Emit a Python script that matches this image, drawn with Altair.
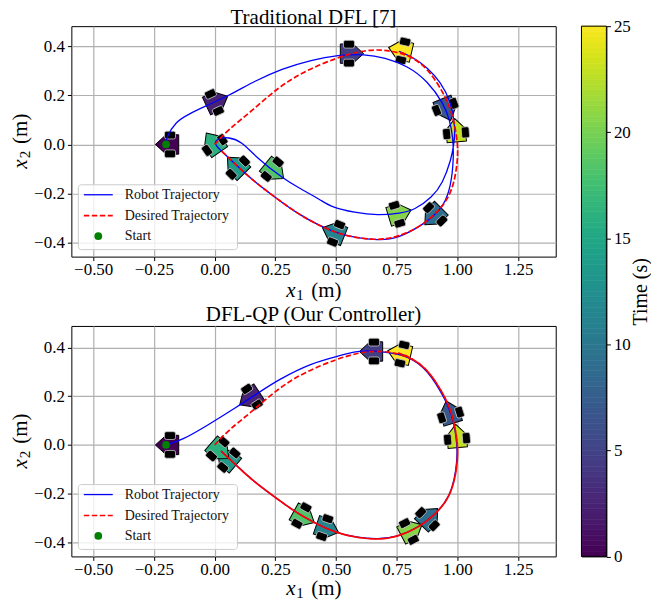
import altair as alt
import pandas as pd

# ---------- values ----------
TIMES = [0, 2.27, 4.55, 6.82, 9.09, 11.36, 13.64, 15.91, 18.18, 20.45, 22.73, 25]

DES_X = [0, .057, .153, .262, .372, .508, .59, .66, .72, .795, .877, .959, .985, 1.003, 1.0, .99, .968, .925, .85, .754, .672, .58, .5, .426, .344, .262, .152, .08, 0,
         .08, .152, .262, .344, .426, .5, .58, .672, .754, .85, .925, .968, .99, 1.0, 1.003, .985, .959, .877, .795, .756]
DES_Y = [0, .061, .136, .233, .3, .355, .378, .387, .382, .366, .316, .184, .1, 0, -.07, -.14, -.21, -.27, -.334, -.378, -.39, -.38, -.36, -.328, -.283, -.225, -.143, -.075, 0,
         -.075, -.143, -.225, -.283, -.328, -.36, -.38, -.39, -.378, -.334, -.27, -.21, -.14, -.07, 0, .1, .184, .316, .366, .378]

A_X = [-.2, -.2, -.16, -.107, -.038, .06, .167, .275, .4, .508, .618, .70, .795, .877, .945, .968, .982, .985, .973, .945, .897, .863, .754, .672, .58, .5, .426, .344, .262, .152, .08, .02, -.004, .016, .057, .112, .167, .29, .344, .439, .48, .577, .672, .767, .822, .897, .939, .975, .985, .993, .973, .93, .877, .815, .76]
A_Y = [0, .026, .094, .123, .156, .2, .259, .308, .345, .364, .368, .354, .32, .259, .164, .1, .03, -.06, -.172, -.248, -.296, -.323, -.385, -.39, -.38, -.36, -.328, -.283, -.225, -.143, -.075, -.02, .005, .026, .03, .012, -.049, -.145, -.175, -.227, -.255, -.278, -.289, -.28, -.268, -.214, -.159, -.06, 0, .062, .177, .255, .313, .357, .379]

B_X = [-.2, -.134, -.038, .098, .18, .262, .4, .508, .59, .66, .72, .795, .877, .955, .985, 1.0, .998, .988, .968, .925, .85, .754, .672, .58, .5, .426, .344, .262, .152, .08, 0, .08, .152, .262, .344, .426, .5, .58, .672, .754, .85, .925, .968, .988, .998, 1.0, .985, .955, .877, .795, .756]
B_Y = [0, .02, .075, .16, .214, .268, .337, .365, .387, .387, .38, .365, .312, .18, .1, 0, -.07, -.14, -.21, -.27, -.334, -.378, -.388, -.38, -.36, -.328, -.283, -.225, -.143, -.075, 0, -.075, -.143, -.225, -.283, -.328, -.36, -.38, -.388, -.378, -.334, -.27, -.21, -.14, -.07, 0, .1, .18, .312, .365, .377]

RA_X = [-.2, .014, .57, .956, .897, .485, .084, -.009, .25, .767, .993, .76]
RA_Y = [0, .178, .37, .138, -.296, -.356, -.083, .011, -.111, -.28, .062, .385]
RA_DIR = [180, 335, 0, 68, 135, 202, 225, 235, 39, 343, 265, 193]

RB_X = [-.2, .14, .64, .967, .888, .469, .046, .025, .372, .815, .997, .756]
RB_Y = [0, .189, .384, .139, -.293, -.345, -.052, -.027, -.298, -.348, .041, .377]
RB_DIR = [180, 146.5, 180, 252.5, 314, 19, 220, 41, 28.6, 332.5, 265, 193]

CB_T = [i * 0.25 for i in range(100)]
X_TICKS = [-.5, -.25, 0, .25, .5, .75, 1.0, 1.25]
Y_TICKS = [-.4, -.2, 0, .2, .4]
CB_TICKS = [0, 5, 10, 15, 20, 25]
LEGEND_LABELS = ["Robot Trajectory", "Desired Trajectory", "Start"]

# ---------- glyphs (local robot shape, size=4 gives 1 unit = 1px) ----------
BODY = "M10.7 0L0 9.7L-12.7 9.7L-12.7 -9.7L0 -9.7Z"
def wheel(cx, cy, hl=5.5, hw=3.9, r=1.8):
    return (f"M{cx-hl+r} {cy-hw}L{cx+hl-r} {cy-hw}Q{cx+hl} {cy-hw} {cx+hl} {cy-hw+r}"
            f"L{cx+hl} {cy+hw-r}Q{cx+hl} {cy+hw} {cx+hl-r} {cy+hw}"
            f"L{cx-hl+r} {cy+hw}Q{cx-hl} {cy+hw} {cx-hl} {cy+hw-r}"
            f"L{cx-hl} {cy-hw+r}Q{cx-hl} {cy-hw} {cx-hl+r} {cy-hw}Z")
WHEELS = wheel(-4, 9.4) + wheel(-4, -9.4)

FONT = "Liberation Serif"
W, H = 485.5, 231
CB_H = 531.5
XDOM, YDOM_A, YDOM_B = [-.59, 1.405], [-.457, .482], [-.458, .489]
color_scale = alt.Scale(scheme="viridis", domain=[0, 25])
one = alt.Data(values=[{}])

def path_df(xs, ys):
    return pd.DataFrame({"x": xs, "y": ys, "i": range(len(xs))})

def panel(title, ax, ay, rx, ry, rdir, ydom, title_offset, xlab_y):
    xe = alt.X("x:Q", scale=alt.Scale(domain=XDOM, nice=False, zero=False),
               axis=alt.Axis(values=X_TICKS, format=".2f", title=None, labelPadding=1))
    ye = alt.Y("y:Q", scale=alt.Scale(domain=ydom, nice=False, zero=False),
               axis=alt.Axis(values=Y_TICKS, format=".1f", title=None))
    robots = pd.DataFrame({"x": rx, "y": ry, "a": rdir, "t": TIMES})
    bodies = alt.Chart(robots).mark_point(filled=True, shape=BODY, size=4, opacity=1,
                                          stroke="black", strokeWidth=1).encode(
        x=xe, y=ye, angle=alt.Angle("a:Q", scale=None),
        color=alt.Color("t:Q", scale=color_scale, legend=None))
    wheels = alt.Chart(robots).mark_point(filled=True, shape=WHEELS, size=4, opacity=1, fill="black",
                                          stroke="#c8c8c8", strokeWidth=0.8).encode(
        x=xe, y=ye, angle=alt.Angle("a:Q", scale=None))
    blue = alt.Chart(path_df(ax, ay)).mark_line(color="blue", strokeWidth=1.3, interpolate="basis").encode(
        x=xe, y=ye, order="i:Q")
    red = alt.Chart(path_df(DES_X, DES_Y)).mark_line(color="red", strokeWidth=1.7, strokeDash=[5.5, 2.5],
                                                     interpolate="basis").encode(
        x=xe, y=ye, order="i:Q")
    start = alt.Chart(path_df(ax[:1], ay[:1])).mark_point(filled=True, color="green", size=60, opacity=1).encode(x=xe, y=ye)

    def txt(s, x, y, size=21, **kw):
        return alt.Chart(one).mark_text(text=s, font=FONT, fontSize=size, align=kw.pop("align", "left"),
                                        baseline=kw.pop("baseline", "alphabetic"),
                                        color=kw.pop("color", "black"), **kw).encode(x=alt.value(x), y=alt.value(y))
    labels = [
        txt("x", 215.5, xlab_y, fontStyle="italic"), txt("1", 225.5, xlab_y + 3.5, size=15), txt("(m)", 240.5, xlab_y),
        txt("x", -44, 143, angle=270, fontStyle="italic"), txt("2", -41, 132.5, size=15, angle=270),
        txt("(m)", -44, 118, angle=270),
    ]
    box = alt.Chart(one).mark_rect(fill="white", fillOpacity=0.8, stroke="#cccccc", strokeWidth=1, cornerRadius=3).encode(
        x=alt.value(7), x2=alt.value(166.5), y=alt.value(159), y2=alt.value(224))
    rows = [169, 190, 210.5]
    items = [
        alt.Chart(one).mark_rule(color="blue", strokeWidth=1.3).encode(x=alt.value(12.5), x2=alt.value(41.5), y=alt.value(rows[0])),
        alt.Chart(one).mark_rule(color="red", strokeWidth=1.7, strokeDash=[5.5, 2.5]).encode(x=alt.value(12.5), x2=alt.value(41.5), y=alt.value(rows[1])),
        alt.Chart(one).mark_point(filled=True, color="green", size=60, opacity=1).encode(x=alt.value(27), y=alt.value(rows[2])),
    ] + [txt(s, 53.5, r, size=14, baseline="middle", color="#111111") for s, r in zip(LEGEND_LABELS, rows)]
    return alt.layer(bodies, wheels, blue, red, start, box, *items, *labels).properties(
        width=W, height=H,
        title=alt.TitleParams(title, font=FONT, fontSize=21, fontWeight="normal", anchor="middle", offset=title_offset, color="black"))

top = panel("Traditional DFL [7]", A_X, A_Y, RA_X, RA_Y, RA_DIR, YDOM_A, -2, 271)
bot = panel("DFL-QP (Our Controller)", B_X, B_Y, RB_X, RB_Y, RB_DIR, YDOM_B, 1, 269.5)

cb_df = pd.DataFrame({"t": CB_T, "t2": [v + 0.25 for v in CB_T]})
cb_rects = alt.Chart(cb_df).mark_rect(strokeWidth=0.6).encode(
    x=alt.value(0), x2=alt.value(25),
    y=alt.Y("t:Q", scale=alt.Scale(domain=[0, 25], nice=False),
            axis=alt.Axis(orient="right", values=CB_TICKS, format="d", grid=False, title="Time (s)", titleAngle=270,
                          titleFontSize=20, titleFontWeight="normal", titleFont=FONT, titlePadding=20)),
    y2="t2:Q",
    color=alt.Color("t:Q", scale=color_scale, legend=None),
    stroke=alt.Stroke("t:Q", scale=color_scale, legend=None),
)
cb_frame = alt.Chart(one).mark_rect(fillOpacity=0, stroke="black", strokeWidth=1).encode(
    x=alt.value(0), x2=alt.value(25), y=alt.value(0), y2=alt.value(CB_H))
cb = alt.layer(cb_rects, cb_frame).properties(width=25, height=CB_H,
             title=alt.TitleParams("\u00a0", font=FONT, fontSize=21, fontWeight="normal", offset=-2))

left = alt.vconcat(top, bot, spacing=69.5, bounds="flush")
chart = alt.hconcat(left, cb, spacing=24.3).properties(padding={"left": 1.5, "top": -11.5, "right": 0, "bottom": 0}).configure_view(
    stroke="black", strokeWidth=1
).configure_axis(
    labelFont=FONT, labelFontSize=17, labelColor="black", tickColor="black", tickSize=4, tickWidth=1,
    gridColor="#b0b0b0", gridWidth=1.2, domain=False, labelFlush=False, labelPadding=3,
    titleColor="black"
)
chart.save("out.html", embed_options={"renderer": "svg", "actions": False})
